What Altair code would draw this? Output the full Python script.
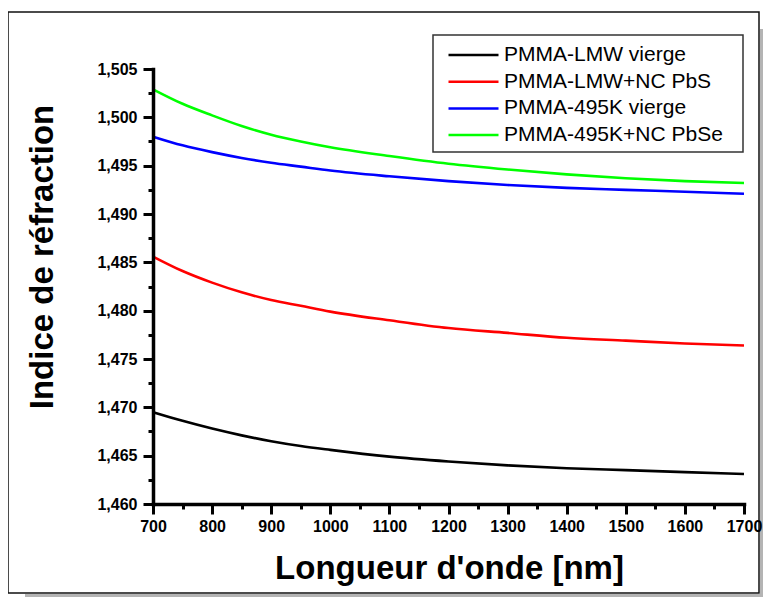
import altair as alt
import pandas as pd

# ---- data ----
wavelength = [700, 750, 800, 850, 900, 950, 1000, 1100, 1200, 1300, 1400, 1500, 1600, 1700]
series_names = ["PMMA-LMW vierge", "PMMA-LMW+NC PbS", "PMMA-495K vierge", "PMMA-495K+NC PbSe"]
series_colors = ["#000000", "#ff0000", "#0000ff", "#00ff00"]
lmw_vierge = [1.4695, 1.4686, 1.4678, 1.4671, 1.4665, 1.4660, 1.4656, 1.4649, 1.4644, 1.4640, 1.4637, 1.4635, 1.4633, 1.4631]
lmw_pbs = [1.4856, 1.4841, 1.4829, 1.4819, 1.4811, 1.4805, 1.4799, 1.4790, 1.4782, 1.4777, 1.4772, 1.4769, 1.4766, 1.4764]
k495_vierge = [1.4980, 1.4971, 1.4964, 1.4958, 1.4953, 1.4949, 1.4945, 1.4939, 1.4934, 1.4930, 1.4927, 1.4925, 1.4923, 1.4921]
k495_pbse = [1.5029, 1.5014, 1.5002, 1.4991, 1.4982, 1.4975, 1.4969, 1.4960, 1.4952, 1.4946, 1.4941, 1.4937, 1.4934, 1.4932]

x_ticks = [700, 800, 900, 1000, 1100, 1200, 1300, 1400, 1500, 1600, 1700]
x_minor = [750, 850, 950, 1050, 1150, 1250, 1350, 1450, 1550, 1650]
y_ticks = [1.460, 1.465, 1.470, 1.475, 1.480, 1.485, 1.490, 1.495, 1.500, 1.505]
y_minor = [1.4625, 1.4675, 1.4725, 1.4775, 1.4825, 1.4875, 1.4925, 1.4975, 1.5025]

rows = []
for name, vals in zip(series_names, [lmw_vierge, lmw_pbs, k495_vierge, k495_pbse]):
    for w, v in zip(wavelength, vals):
        rows.append({"wl": w, "n": v, "series": name})
df = pd.DataFrame(rows)

FONT = "Liberation Sans"
W, H = 591, 435

xscale = alt.Scale(domain=[700, 1700], nice=False, zero=False)
yscale = alt.Scale(domain=[1.460, 1.505], nice=False, zero=False)

x_axis = alt.Axis(
    values=x_ticks, format="d", title="Longueur d'onde [nm]", orient="bottom",
    tickSize=10, tickWidth=3, tickColor="black", domainWidth=3.5, domainColor="black",
    domainCap="square", labelFont=FONT, labelFontSize=16, labelFontWeight="bold",
    labelColor="black", labelPadding=4, labelFlush=False, labelOverlap=False,
    titleFont=FONT, titleFontSize=33, titleFontWeight="bold", titleColor="black",
    titleX=296, titleY=74, titleBaseline="alphabetic", titleAlign="center", grid=False,
    zindex=2,
)
y_axis = alt.Axis(
    values=y_ticks, labelExpr="replace(format(datum.value, '.3f'), '.', ',')",
    title="Indice de réfraction", orient="left",
    tickSize=10, tickWidth=3, tickColor="black", domainWidth=3.5, domainColor="black",
    domainCap="square", labelFont=FONT, labelFontSize=16, labelFontWeight="bold",
    labelColor="black", labelPadding=6, labelFlush=False, labelOverlap=False,
    titleFont=FONT, titleFontSize=33, titleFontWeight="bold", titleColor="black",
    titleX=-101, titleY=187.5, titleAngle=270, titleBaseline="alphabetic",
    titleAlign="center", grid=False, zindex=2,
)

legend = alt.Legend(
    title=None, orient="none", legendX=296, legendY=-24.5, padding=0,
    labelFont=FONT, labelFontSize=21, labelColor="black", labelLimit=500,
    symbolType="M-5,0H5", symbolSize=100, symbolStrokeWidth=2.5,
    symbolOffset=14, labelOffset=20, rowPadding=4.7,
)

lines = alt.Chart(df).mark_line(strokeWidth=2.6, interpolate="monotone").encode(
    x=alt.X("wl:Q", scale=xscale, axis=x_axis),
    y=alt.Y("n:Q", scale=yscale, axis=y_axis),
    color=alt.Color("series:N", scale=alt.Scale(domain=series_names, range=series_colors),
                    legend=legend),
)

minor = alt.Chart(df).mark_point(opacity=0).encode(
    x=alt.X("wl:Q", scale=xscale, axis=alt.Axis(values=x_minor, labels=False, domain=False,
            tickSize=5, tickWidth=3, tickColor="black", title=None, orient="bottom",
            grid=False, zindex=2)),
    y=alt.Y("n:Q", scale=yscale, axis=alt.Axis(values=y_minor, labels=False, domain=False,
            tickSize=5, tickWidth=3, tickColor="black", title=None, orient="left",
            grid=False, zindex=2)),
)

dummy = pd.DataFrame({"a": [0]})
shadow_b = alt.Chart(dummy).mark_rect(color="#b4b4b4").encode(
    x=alt.value(-128), x2=alt.value(610), y=alt.value(525), y2=alt.value(528))
shadow_r = alt.Chart(dummy).mark_rect(color="#b4b4b4").encode(
    x=alt.value(607), x2=alt.value(610), y=alt.value(-40), y2=alt.value(528))
frame = alt.Chart(dummy).mark_rect(fillOpacity=0, stroke="#111111", strokeWidth=1.5).encode(
    x=alt.value(-145), x2=alt.value(606), y=alt.value(-57), y2=alt.value(524))
legbox = alt.Chart(dummy).mark_rect(fill="white", stroke="#333333", strokeWidth=1.5).encode(
    x=alt.value(280), x2=alt.value(590), y=alt.value(-34), y2=alt.value(83))

chart = alt.layer(shadow_b, shadow_r, frame, legbox, lines, minor).resolve_axis(
    x="independent", y="independent"
).properties(
    width=W, height=H,
    autosize=alt.AutoSizeParams(type="none"),
    padding={"left": 145, "top": 61, "right": 19, "bottom": 93},
    background="white",
).configure_view(stroke=None)

chart.save("out.html", embed_options={"renderer": "svg", "actions": False})
